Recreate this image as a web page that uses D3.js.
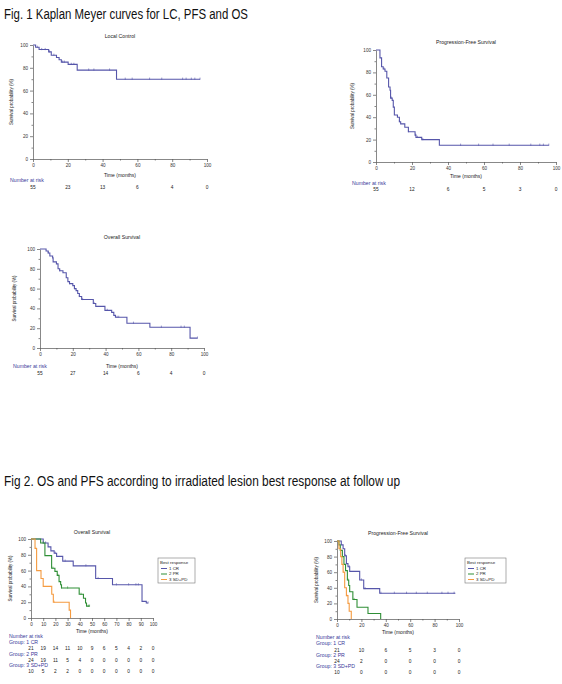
<!DOCTYPE html>
<html lang="en">
<head>
<meta charset="UTF-8">
<title>Kaplan Meyer curves</title>
<script src="https://cdn.jsdelivr.net/npm/d3@7/dist/d3.min.js"></script>
<style>
  body { margin: 0; background: #fff; }
  svg { display: block; }
  .tick text { font-family: "Liberation Sans", Arial, sans-serif; fill: #333; }
  .small { font-family: "Liberation Sans", Arial, sans-serif; fill: #222; }
  .risk { fill: #3a3a9a; }
  .heading { font-family: "Liberation Sans Narrow", "Liberation Sans", sans-serif; fill: #111; }
</style>
</head>
<body>
<script>
// ---- data (time in months, survival in %) ----
const xTicks20 = [0, 20, 40, 60, 80, 100];
const xTicks10 = [0, 10, 20, 30, 40, 50, 60, 70, 80, 90, 100];
const yTicks = [0, 20, 40, 60, 80, 100];
const groupNames = ["1 CR", "2 PR", "3 SD+PD"];

// Fig 1 - Local Control
const lcTimes = [0, 1.5, 3.5, 9, 10.5, 13.5, 15, 16.3, 20.2, 25.4, 48];
const lcSurv  = [100, 98, 96, 94, 91, 89, 87, 85, 83, 78, 70];
const lcEnd = 96;
const lcCensor = [2.5, 5, 7, 9.5, 12, 17, 18, 22, 23.5, 32, 35, 44, 53, 57, 67, 74, 86, 88, 91, 93, 96];
const lcRisk = [55, 23, 13, 6, 4, 0];

// Fig 1 - Progression-Free Survival
const pfsTimes = [0, 2.2, 3.1, 4, 5, 6, 7, 7.8, 8.1, 9, 9.6, 10.2, 11.9, 13, 13.7, 16, 18, 21.7, 22.2, 25.4, 35.2];
const pfsSurv  = [100, 93, 85, 83, 81, 75, 67, 64, 57, 55, 49, 42, 40, 36, 34, 31, 27, 24, 22, 20, 15];
const pfsEnd = 96;
const pfsCensor = [4.5, 8.5, 13, 18, 22, 23, 26, 47, 57, 65, 74, 86, 91, 93, 96];
const pfsRisk = [55, 12, 6, 5, 3, 0];

// Fig 1 - Overall Survival
const osTimes = [0, 3.7, 5, 6, 7.7, 8, 10, 11, 12, 14, 16, 17, 18, 20, 21, 22, 23, 24, 25.4, 32.5, 34, 39.6, 43.7, 45, 46, 53, 67, 91.5];
const osSurv  = [100, 98, 96, 93, 91, 87, 85, 80, 78, 76, 71, 67, 65, 63, 60, 58, 55, 52, 49, 45, 42, 38, 36, 33, 31, 25, 21, 10];
const osEnd = 96;
const osCensor = [5, 12, 18, 21, 24, 26, 33, 41, 47, 48, 57, 74, 86, 88, 96];
const osRisk = [55, 27, 14, 6, 4, 0];

// Fig 2 - Overall Survival by best response
const osCrTimes = [0, 10, 14, 16.3, 19, 21, 26, 34.6, 53, 66.8, 91, 94.5];
const osCrSurv  = [100, 95, 90, 85, 82, 78, 72, 66, 50, 42, 21, 19];
const osCrEnd = 96;
const osCrCensor = [12, 20, 28, 45, 55, 70, 80, 86, 88, 96];
const osPrTimes = [0, 7.9, 11.4, 16.9, 19.6, 21.5, 23, 24.3, 25, 39.5, 43, 44.7, 45.5];
const osPrSurv  = [100, 95, 79, 63, 59, 54, 46, 42, 38, 30, 25, 19, 15];
const osPrEnd = 48;
const osPrCensor = [10, 18, 22, 25, 30, 41, 47, 48];
const osSdTimes = [0, 3.3, 4.6, 8.2, 10, 17, 18.3, 31.3, 32.4];
const osSdSurv  = [100, 88, 60, 50, 40, 30, 20, 10, 0];
const osSdEnd = 32.4;
const osSdCensor = [4, 19];
const osCrRisk = [21, 19, 14, 11, 10, 9, 6, 5, 4, 2, 0];
const osPrRisk = [24, 19, 11, 5, 4, 0, 0, 0, 0, 0, 0];
const osSdRisk = [10, 5, 2, 2, 0, 0, 0, 0, 0, 0, 0];

// Fig 2 - Progression-Free Survival by best response
const pfsCrTimes = [0, 3.5, 5, 6.3, 7.7, 9, 10.4, 18.6, 21.9, 35];
const pfsCrSurv  = [100, 95, 90, 81, 71, 67, 61, 50, 39, 33];
const pfsCrEnd = 97;
const pfsCrCensor = [7, 10, 20, 23, 36, 47, 57, 65, 74, 86, 91, 96];
const pfsPrTimes = [0, 1.6, 2.7, 4.4, 5.7, 7, 8.5, 9.6, 10.4, 13, 16.4, 25.4, 35.8];
const pfsPrSurv  = [100, 95, 88, 80, 70, 62, 50, 43, 35, 25, 15, 7, 0];
const pfsPrEnd = 35.8;
const pfsPrCensor = [9, 14];
const pfsSdTimes = [0, 1.6, 3, 4, 5, 6.3, 7.7, 9, 10, 11.7];
const pfsSdSurv  = [100, 90, 80, 70, 60, 40, 30, 20, 10, 0];
const pfsSdEnd = 11.7;
const pfsSdCensor = [5.5, 8];
const pfsCrRisk = [21, 10, 6, 5, 3, 0];
const pfsPrRisk = [24, 2, 0, 0, 0, 0];
const pfsSdRisk = [10, 0, 0, 0, 0, 0];

const BLUE = "#5656aa", GREEN = "#2f8f36", ORANGE = "#f59b40";

const svg = d3.select("body").append("svg")
  .attr("width", 562).attr("height", 684);

svg.append("text").attr("class", "heading")
  .attr("x", 4).attr("y", 19).style("font-size", "14px")
  .attr("textLength", 244).attr("lengthAdjust", "spacingAndGlyphs")
  .text("Fig. 1 Kaplan Meyer curves for LC, PFS and OS");
svg.append("text").attr("class", "heading")
  .attr("x", 4).attr("y", 486).style("font-size", "14px")
  .attr("textLength", 396).attr("lengthAdjust", "spacingAndGlyphs")
  .text("Fig 2. OS and PFS according to irradiated lesion best response at follow up");

function survAt(times, surv, t) {
  let s = surv[0];
  times.forEach(function(tt, i) { if (tt <= t) s = surv[i]; });
  return s;
}

function drawPanel(p) {
  const g = svg.append("g");
  const x = d3.scaleLinear().domain([0, 100]).range([p.x0, p.x1]);
  const y = d3.scaleLinear().domain([0, 100]).range([p.y0, p.y1]);

  // axes
  g.append("g").attr("transform", "translate(" + p.x0 + ",0)")
    .call(d3.axisLeft(y).tickValues(yTicks).tickSize(3).tickSizeOuter(0).tickPadding(2));
  g.append("g").attr("transform", "translate(" + p.x0 + ",0)")
    .call(d3.axisLeft(y).tickValues([10, 30, 50, 70, 90]).tickSize(1.5).tickFormat(""))
    .select(".domain").remove();
  g.append("g").attr("transform", "translate(0," + p.y0 + ")")
    .call(d3.axisBottom(x).tickValues(p.xTicks).tickSize(3).tickSizeOuter(0).tickPadding(2));
  if (p.xTicks.length < 11) {
    g.append("g").attr("transform", "translate(0," + p.y0 + ")")
      .call(d3.axisBottom(x).tickValues([10, 30, 50, 70, 90]).tickSize(1.5).tickFormat(""))
      .select(".domain").remove();
  }
  g.selectAll(".domain, .tick line").attr("stroke", "#555").attr("stroke-width", 0.7);
  g.selectAll(".tick text").style("font-size", "4.6px");

  g.append("text").attr("class", "small")
    .attr("x", (p.x0 + p.x1) / 2).attr("y", p.titleY)
    .attr("text-anchor", "middle").attr("dominant-baseline", "middle")
    .style("font-size", "5.2px").text(p.title);
  g.append("text").attr("class", "small")
    .attr("x", (p.x0 + p.x1) / 2).attr("y", p.timeY)
    .attr("text-anchor", "middle").attr("dominant-baseline", "middle")
    .style("font-size", "5px").text("Time (months)");
  g.append("text").attr("class", "small")
    .attr("transform", "translate(" + p.yLabX + "," + (p.y0 + p.y1) / 2 + ") rotate(-90)")
    .attr("text-anchor", "middle").attr("dominant-baseline", "middle")
    .style("font-size", "4.5px").text("Survival probability (%)");

  // curves
  const line = d3.line().curve(d3.curveStepAfter)
    .x(d => x(d[0])).y(d => y(d[1]));
  p.curves.forEach(function(c) {
    const pts = c.times.map((t, i) => [t, c.surv[i]]);
    pts.push([c.end, c.surv[c.surv.length - 1]]);
    g.append("path").datum(pts)
      .attr("fill", "none").attr("stroke", c.color).attr("stroke-width", 1.1)
      .attr("d", line);
    g.selectAll(null).data(c.censor).enter().append("line")
      .attr("x1", d => x(d)).attr("x2", d => x(d))
      .attr("y1", d => y(survAt(c.times, c.surv, d)) - 1.6)
      .attr("y2", d => y(survAt(c.times, c.surv, d)) + 0.6)
      .attr("stroke", c.color).attr("stroke-width", 0.6);
  });

  // number at risk
  g.append("text").attr("class", "small risk")
    .attr("x", p.riskX).attr("y", p.riskRows[0])
    .attr("dominant-baseline", "middle").style("font-size", "5.2px")
    .text("Number at risk");
  p.risk.forEach(function(r) {
    if (r.label) {
      g.append("text").attr("class", "small risk")
        .attr("x", p.riskX).attr("y", r.labelY)
        .attr("dominant-baseline", "middle").style("font-size", "5.2px")
        .text(r.label);
    }
    g.selectAll(null).data(r.values).enter().append("text")
      .attr("class", "small")
      .attr("x", (d, i) => x(p.xTicks[i])).attr("y", r.y)
      .attr("text-anchor", "middle").attr("dominant-baseline", "middle")
      .style("font-size", "4.8px").text(d => d);
  });

  // legend
  if (p.legend) {
    const L = p.legend;
    g.append("rect").attr("x", L.x).attr("y", L.y).attr("width", L.w).attr("height", L.h)
      .attr("fill", "#fff").attr("stroke", "#777").attr("stroke-width", 0.6);
    g.append("text").attr("class", "small").attr("x", L.x + 2).attr("y", L.y + 5)
      .attr("dominant-baseline", "middle").style("font-size", "4.4px").text("Best response");
    p.curves.forEach(function(c, i) {
      const yy = L.y + 10.5 + i * 5.5;
      g.append("line").attr("x1", L.x + 3).attr("x2", L.x + 9).attr("y1", yy).attr("y2", yy)
        .attr("stroke", c.color).attr("stroke-width", 1);
      g.append("text").attr("class", "small").attr("x", L.x + 11).attr("y", yy)
        .attr("dominant-baseline", "middle").style("font-size", "4.4px").text(groupNames[i]);
    });
  }
}

drawPanel({
  title: "Local Control", x0: 33, x1: 207, y0: 159, y1: 45, titleY: 37, timeY: 176, yLabX: 12,
  xTicks: xTicks20, riskX: 10, riskRows: [181],
  curves: [{ times: lcTimes, surv: lcSurv, end: lcEnd, censor: lcCensor, color: BLUE }],
  risk: [{ values: lcRisk, y: 188 }]
});
drawPanel({
  title: "Progression-Free Survival", x0: 376, x1: 556, y0: 162, y1: 50, titleY: 43, timeY: 177, yLabX: 353,
  xTicks: xTicks20, riskX: 352, riskRows: [184],
  curves: [{ times: pfsTimes, surv: pfsSurv, end: pfsEnd, censor: pfsCensor, color: BLUE }],
  risk: [{ values: pfsRisk, y: 190 }]
});
drawPanel({
  title: "Overall Survival", x0: 40, x1: 204, y0: 348, y1: 249, titleY: 238, timeY: 367, yLabX: 15,
  xTicks: xTicks20, riskX: 13, riskRows: [367],
  curves: [{ times: osTimes, surv: osSurv, end: osEnd, censor: osCensor, color: BLUE }],
  risk: [{ values: osRisk, y: 374 }]
});
drawPanel({
  title: "Overall Survival", x0: 31, x1: 153, y0: 618, y1: 539, titleY: 533, timeY: 632, yLabX: 11,
  xTicks: xTicks10, riskX: 9, riskRows: [637],
  curves: [
    { times: osCrTimes, surv: osCrSurv, end: osCrEnd, censor: osCrCensor, color: BLUE },
    { times: osPrTimes, surv: osPrSurv, end: osPrEnd, censor: osPrCensor, color: GREEN },
    { times: osSdTimes, surv: osSdSurv, end: osSdEnd, censor: osSdCensor, color: ORANGE }
  ],
  risk: [
    { label: "Group: 1 CR", labelY: 643, values: osCrRisk, y: 649 },
    { label: "Group: 2 PR", labelY: 654.5, values: osPrRisk, y: 661 },
    { label: "Group: 3 SD+PD", labelY: 666, values: osSdRisk, y: 672 }
  ],
  legend: { x: 158, y: 558, w: 37, h: 25 }
});
drawPanel({
  title: "Progression-Free Survival", x0: 337, x1: 459, y0: 619, y1: 541, titleY: 534, timeY: 633, yLabX: 317,
  xTicks: xTicks20, riskX: 316, riskRows: [638],
  curves: [
    { times: pfsCrTimes, surv: pfsCrSurv, end: pfsCrEnd, censor: pfsCrCensor, color: BLUE },
    { times: pfsPrTimes, surv: pfsPrSurv, end: pfsPrEnd, censor: pfsPrCensor, color: GREEN },
    { times: pfsSdTimes, surv: pfsSdSurv, end: pfsSdEnd, censor: pfsSdCensor, color: ORANGE }
  ],
  risk: [
    { label: "Group: 1 CR", labelY: 644, values: pfsCrRisk, y: 651 },
    { label: "Group: 2 PR", labelY: 656, values: pfsPrRisk, y: 662 },
    { label: "Group: 3 SD+PD", labelY: 667, values: pfsSdRisk, y: 673 }
  ],
  legend: { x: 465, y: 558, w: 41, h: 25 }
});
</script>
</body>
</html>
